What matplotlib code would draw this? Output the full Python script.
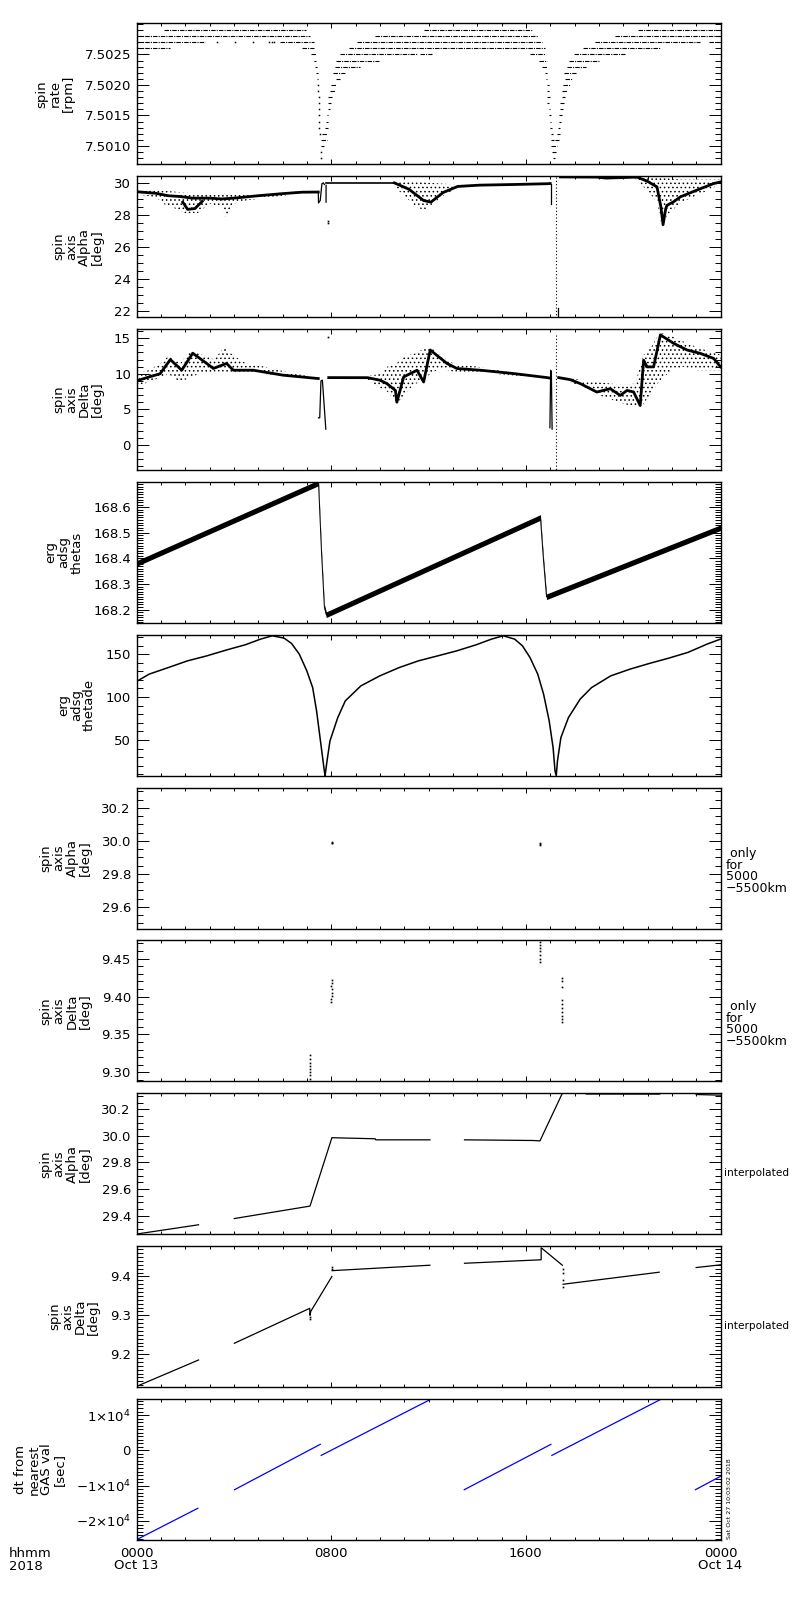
import numpy as np
import matplotlib
matplotlib.use('Agg')
import matplotlib.pyplot as plt
from matplotlib.ticker import FixedLocator, MultipleLocator, FormatStrFormatter

plt.rcParams['font.family'] = ['DejaVu Sans']
plt.rcParams['font.size'] = 9.5
plt.rcParams['mathtext.fontset'] = 'dejavusans'
plt.rcParams['hatch.color'] = 'black'
plt.rcParams['hatch.linewidth'] = 0.6

nan = np.nan

# ── panel 1: spin rate, quantised levels (level, start hour, end hour) ───────
rate_segs = [
    (7.5029, 1.11, 6.98), (7.5029, 11.83, 16.25), (7.5029, 20.63, 24.0),
    (7.5028, 0.0, 7.15), (7.5028, 9.81, 16.52), (7.5028, 19.68, 24.0),
    (7.5027, 0.0, 2.82), (7.5027, 5.9, 7.28), (7.5027, 9.06, 16.66),
    (7.5027, 18.85, 23.17), (7.5027, 23.51, 24.0),
    (7.5027, 3.3, 3.3), (7.5027, 4.05, 4.05), (7.5027, 4.77, 4.77),
    (7.5027, 5.43, 5.43), (7.5027, 5.55, 5.55), (7.5027, 5.67, 5.67),
    (7.5026, 0.0, 1.39), (7.5026, 6.8, 7.31), (7.5026, 8.72, 16.8), (7.5026, 18.35, 21.52),
    (7.5025, 7.18, 7.37), (7.5025, 8.37, 11.52), (7.5025, 11.66, 12.14),
    (7.5025, 16.18, 16.8), (7.5025, 17.96, 20.09),
    (7.5024, 7.28, 7.39), (7.5024, 8.21, 9.95), (7.5024, 16.56, 16.87), (7.5024, 17.76, 19.06),
    (7.5023, 7.35, 7.41), (7.5023, 8.17, 9.17), (7.5023, 16.66, 16.87), (7.5023, 17.69, 18.48),
    (7.5022, 7.39, 7.44), (7.5022, 8.07, 8.58), (7.5022, 16.77, 16.89), (7.5022, 17.55, 18.07),
    (7.5021, 7.41, 7.46), (7.5021, 8.21, 8.37), (7.5021, 16.84, 16.89), (7.5021, 17.62, 17.89),
    (7.5020, 7.44, 7.44), (7.5020, 7.99, 8.21), (7.5020, 16.87, 16.94), (7.5020, 17.51, 17.83),
    (7.5019, 7.46, 7.46), (7.5019, 7.94, 8.14), (7.5019, 16.87, 16.94), (7.5019, 17.48, 17.69),
    (7.5018, 7.48, 7.48), (7.5018, 7.89, 8.03), (7.5018, 16.89, 16.98), (7.5018, 17.48, 17.62),
    (7.5017, 7.48, 7.48), (7.5017, 7.89, 8.0), (7.5017, 16.89, 16.94), (7.5017, 17.41, 17.55),
    (7.5016, 7.50, 7.50), (7.5016, 7.87, 7.96), (7.5016, 16.94, 17.0), (7.5016, 17.39, 17.51),
    (7.5015, 7.51, 7.51), (7.5015, 7.83, 7.89), (7.5015, 16.94, 17.03), (7.5015, 17.35, 17.48),
    (7.5014, 7.52, 7.52), (7.5014, 7.80, 7.89), (7.5014, 16.98, 17.03), (7.5014, 17.35, 17.44),
    (7.5013, 7.52, 7.52), (7.5013, 7.76, 7.85), (7.5013, 17.0, 17.07), (7.5013, 17.31, 17.41),
    (7.5012, 7.55, 7.55), (7.5012, 7.62, 7.83), (7.5012, 17.03, 17.11), (7.5012, 17.28, 17.39),
    (7.5011, 7.58, 7.83), (7.5011, 17.03, 17.14), (7.5011, 17.21, 17.35),
    (7.5010, 7.58, 7.72), (7.5010, 17.05, 17.28),
    (7.5009, 7.58, 7.60), (7.5009, 17.07, 17.25),
    (7.5008, 7.58, 7.58), (7.5008, 17.10, 17.21),
]

# ── panel 2: spin axis alpha ─────────────────────────────────────────────────
alpha_core_t = [0.0, 0.8, 1.3, 1.8, 2.3, 3.0, 3.5, 4.0, 5.0, 6.0, 6.8, 7.47]
alpha_core_v = [29.45, 29.35, 29.2, 29.15, 29.05, 29.05, 29.0, 29.05, 29.2, 29.33, 29.42, 29.43]
alpha_blob_t = [1.9, 2.1, 2.4, 2.7]
alpha_blob_v = [28.8, 28.35, 28.4, 28.85]
alpha_spike_t = [7.47, 7.48, 7.55, 7.62, 7.68, 7.72, nan, 7.79, 7.79]
alpha_spike_v = [29.43, 28.75, 28.9, 29.95, 30.0, 29.9, nan, 29.85, 28.8]
alpha_flat_t = [7.8, 10.6]
alpha_flat_v = [30.0, 30.0]
alpha_core2_t = [10.6, 11.2, 11.8, 12.1, 12.6, 13.2, 14.1, 15.5, 16.9, 17.0]
alpha_core2_v = [30.0, 29.6, 28.9, 28.8, 29.4, 29.78, 29.86, 29.9, 29.95, 29.96]
alpha_spike2_t = [17.03, 17.03, nan, 17.32, 17.32]
alpha_spike2_v = [29.96, 28.7, nan, 22.2, 21.7]
alpha_core3_t = [17.42, 18.9, 19.3, 19.9, 20.57, 21.0, 21.39, 21.55, 21.64, 21.75,
                 21.8, 22.07, 22.35, 23.03, 23.72, 24.0]
alpha_core3_v = [30.37, 30.36, 30.3, 30.33, 30.36, 30.1, 29.75, 28.5, 27.4, 28.4,
                 28.6, 28.82, 29.13, 29.55, 29.96, 30.06]
alpha_dots_t = [7.89, 7.89]
alpha_dots_v = [27.6, 27.5]
alpha_cloudA_t = [0, 0.8, 1.2, 1.6, 2.0, 2.5, 3.0, 3.5, 3.7, 4.0, 4.5, 5.5, 6.5, 7.0]
alpha_cloudA_lo = [29.3, 29.1, 28.6, 28.4, 28.1, 28.1, 28.7, 28.5, 27.8, 28.7, 28.9, 29.1, 29.3, 29.4]
alpha_cloudA_hi = [29.6, 29.55, 29.5, 29.45, 29.4, 29.35, 29.3, 29.3, 29.25, 29.25, 29.3, 29.35, 29.45, 29.45]
alpha_cloudB_t = [10.5, 11.0, 11.5, 11.8, 12.1, 12.6, 13.2, 13.6]
alpha_cloudB_lo = [29.9, 29.2, 28.5, 28.3, 28.6, 29.2, 29.7, 29.8]
alpha_cloudB_hi = [30.05, 30.1, 30.1, 30.05, 30.0, 29.95, 29.9, 29.88]
alpha_cloudC_t = [20.5, 21.0, 21.4, 21.6, 21.8, 22.4, 23.0, 23.7, 24.0]
alpha_cloudC_lo = [30.25, 29.5, 28.8, 27.2, 28.0, 28.8, 29.2, 29.7, 29.9]
alpha_cloudC_hi = [30.4, 30.4, 30.3, 30.3, 30.3, 30.2, 30.2, 30.2, 30.2]

# ── panel 3: spin axis delta ─────────────────────────────────────────────────
delta_coreA_t = [0, 0.56, 0.97, 1.39, 1.86, 2.31, 3.16, 3.7, 3.98, 4.8, 6.03, 7.4, 7.47]
delta_coreA_v = [9.0, 9.6, 10.0, 12.0, 10.5, 12.9, 10.75, 11.45, 10.5, 10.5, 9.8, 9.35, 9.33]
delta_spike_t = [7.48, 7.53, 7.58, 7.64, 7.78]
delta_spike_v = [3.8, 3.8, 9.0, 9.1, 2.2]
delta_coreB_t = [7.9, 9.5, 10.02, 10.29, 10.64, 10.7, 10.98, 11.53, 11.8, 12.07,
                 12.76, 13.17, 14.13, 15.5, 16.87, 16.98]
delta_coreB_v = [9.46, 9.45, 9.08, 8.61, 7.66, 6.0, 9.56, 10.5, 8.84, 13.35,
                 11.45, 10.74, 10.5, 10.03, 9.46, 9.4]
delta_spike2_t = [16.99, 17.02, 17.05, 17.08]
delta_spike2_v = [2.4, 10.5, 10.2, 2.2]
delta_coreC_t = [17.35, 17.83, 18.24, 18.92, 19.47, 19.88, 20.16, 20.43, 20.7, 20.84,
                 20.98, 21.25, 21.53, 22.07, 22.62, 23.17, 23.72, 24.0]
delta_coreC_v = [9.46, 9.17, 8.61, 7.43, 7.9, 6.95, 7.66, 7.43, 5.53, 11.92,
                 10.97, 10.97, 15.47, 14.29, 13.35, 12.87, 12.16, 10.97]
delta_dots_t = [7.89]
delta_dots_v = [15.2]
delta_cloudA_t = [0, 0.5, 1.0, 1.3, 1.8, 2.2, 2.6, 3.2, 3.6, 4.0, 4.5, 5.0, 5.5, 6.5, 7.3]
delta_cloudA_lo = [8.3, 8.8, 9.5, 10.0, 8.8, 9.5, 10.0, 10.3, 10.3, 10.2, 10.3, 10.0, 9.9, 9.6, 9.4]
delta_cloudA_hi = [10.0, 10.5, 11.5, 12.5, 11.5, 13.2, 12.8, 12.0, 13.8, 12.5, 11.5, 11.2, 10.8, 10.0, 9.55]
delta_cloudB_t = [9.4, 10.02, 10.3, 10.7, 11.0, 11.4, 11.8, 12.07, 12.5, 13.0, 14.0, 15.0, 16.0, 16.9]
delta_cloudB_lo = [9.3, 8.0, 7.5, 5.8, 7.0, 8.5, 9.0, 10.0, 10.8, 10.3, 10.2, 9.9, 9.6, 9.35]
delta_cloudB_hi = [9.6, 10.0, 11.0, 11.5, 12.5, 12.8, 13.5, 13.8, 12.5, 11.5, 11.0, 10.4, 9.9, 9.5]
delta_cloudC_t = [17.4, 18.5, 19.0, 19.8, 20.5, 20.8, 21.2, 21.5, 22.0, 22.5, 23.0, 23.5, 24.0]
delta_cloudC_lo = [9.3, 8.0, 7.0, 6.0, 5.3, 5.6, 7.5, 9.0, 10.5, 11.0, 10.5, 10.5, 10.5]
delta_cloudC_hi = [9.6, 9.0, 8.8, 8.5, 8.6, 12.5, 14.0, 15.8, 15.3, 14.5, 13.8, 13.2, 12.7]

# ── panel 4: erg adsg thetas (sawtooth) ──────────────────────────────────────
thetas_t = [0.0, 7.48, 7.6, 7.72, 7.8, 16.6, 16.72, 16.85, 24.0]
thetas_v = [168.38, 168.695, 168.43, 168.21, 168.18, 168.56, 168.40, 168.25, 168.52]

# ── panel 5: erg adsg thetade ────────────────────────────────────────────────
thetade_t = [0, 0.52, 1.31, 2.1, 2.89, 3.68, 4.47, 5.1, 5.58, 6.06, 6.37, 6.69, 7.0,
             7.24, 7.4, 7.56, 7.72, 7.75, 7.83, 7.95, 8.27, 8.58, 9.22, 10.0, 10.8,
             11.59, 12.38, 13.17, 13.96, 14.59, 15.07, 15.54, 15.86, 16.17, 16.49,
             16.73, 16.96, 17.12, 17.2, 17.25, 17.3, 17.44, 17.75, 18.23, 18.7,
             19.49, 20.28, 21.07, 21.87, 22.66, 23.45, 24.0]
thetade_v = [118.1, 126.7, 134.4, 142.2, 148, 154.7, 160.9, 167.5, 171.4, 168.7, 162.5,
             150, 130.5, 111, 83.9, 48.8, 13.8, 8.5, 25.5, 48.8, 76, 95.5, 113, 124.7,
             134.4, 142.2, 148, 153.9, 160.9, 167.5, 171.4, 167.5, 159.7, 146.1, 126.7,
             103.3, 72.2, 41, 13.8, 8.5, 25.5, 52.7, 76, 97.5, 111, 124.7, 132.5,
             139.1, 145.3, 152, 161.7, 167.5]

# ── panels 6/7: values only for 5000-5500 km ─────────────────────────────────
alpha_only_t = [8.02, 8.03, 8.04, 16.59, 16.59, 16.59]
alpha_only_v = [29.995, 29.99, 29.985, 29.99, 29.983, 29.976]
delta_only_t = [7.12, 7.13, 7.13, 7.14, 7.13, 7.14, 7.14, 7.15,
                8.03, 8.02, 8.01, 8.02, 8.03, 8.02, 8.01, 8.01,
                16.59, 16.59, 16.59, 16.59, 16.59, 16.59, 16.59,
                17.47, 17.47, 17.48, 17.49, 17.49, 17.49, 17.5, 17.5, 17.5, 17.5]
delta_only_v = [9.323, 9.318, 9.313, 9.309, 9.305, 9.300, 9.296, 9.291,
                9.422, 9.418, 9.414, 9.410, 9.405, 9.401, 9.397, 9.393,
                9.472, 9.468, 9.464, 9.460, 9.455, 9.450, 9.445,
                9.424, 9.420, 9.412, 9.396, 9.390, 9.385, 9.380, 9.375, 9.370, 9.366]

# ── panels 8/9: interpolated ─────────────────────────────────────────────────
alpha_int_t = [0.0, 2.55, nan, 4.02, 7.13, 8.03, 9.81, 9.83, 12.06, nan, 13.48, 16.31,
               16.58, 17.5, 17.6, 18.4, 18.47, 21.5, nan, 23.0, 24.0]
alpha_int_v = [29.26, 29.33, nan, 29.377, 29.471, 29.987, 29.979, 29.971, 29.971, nan,
               29.971, 29.966, 29.963, 30.322, 30.335, 30.33, 30.317, 30.316, nan,
               30.313, 30.308]
delta_int_t = [0.0, 2.55, nan, 4.02, 7.12, 7.13, 7.16, 8.03, nan, 8.04, 12.06, nan,
               13.48, 16.63, 16.63, 17.5, nan, 17.53, 21.48, nan, 23.0, 24.0]
delta_int_v = [9.117, 9.185, nan, 9.228, 9.318, 9.30, 9.31, 9.40, nan, 9.415, 9.429, nan,
               9.434, 9.443, 9.474, 9.429, nan, 9.38, 9.411, nan, 9.423, 9.430]
delta_int_dot_t = [7.13, 7.13, 8.03, 8.03, 17.51, 17.52, 17.52, 17.52]
delta_int_dot_v = [9.29, 9.296, 9.42, 9.424, 9.42, 9.41, 9.39, 9.372]

# ── panel 10: dt from nearest GAS value (segments) ───────────────────────────
dt_t0 = [0.0, 4.03, 7.59, 13.47, 17.07, 22.97]
dt_t1 = [2.52, 7.55, 12.04, 17.03, 21.5, 24.0]
dt_v0 = [-25300, -11135, -1419, -11135, -1419, -11135]
dt_v1 = [-16405, 1703, 14290, 1703, 14290, -7350]

# ── axis set-up per panel ────────────────────────────────────────────────────
ylabels = ['spin\nrate\n[rpm]', 'spin\naxis\nAlpha\n[deg]', 'spin\naxis\nDelta\n[deg]',
           'erg\nadsg\nthetas', 'erg\nadsg\nthetade', 'spin\naxis\nAlpha\n[deg]',
           'spin\naxis\nDelta\n[deg]', 'spin\naxis\nAlpha\n[deg]', 'spin\naxis\nDelta\n[deg]',
           'dt from\nnearest\nGAS val\n[sec]']
ylims = [(7.5007, 7.50301), (21.63, 30.42), (-3.55, 16.3), (168.148, 168.699),
         (8.3, 172.6), (29.468, 30.323), (9.288, 9.474), (29.258, 30.322),
         (9.115, 9.478), (-25400, 14540)]
yticks = [[7.5010, 7.5015, 7.5020, 7.5025], [22, 24, 26, 28, 30], [0, 5, 10, 15],
          [168.2, 168.3, 168.4, 168.5, 168.6], [50, 100, 150], [29.6, 29.8, 30.0, 30.2],
          [9.30, 9.35, 9.40, 9.45], [29.4, 29.6, 29.8, 30.0, 30.2], [9.2, 9.3, 9.4],
          [-20000, -10000, 0, 10000]]
yminor = [0.0001, 0.5, 1, 0.01, 10, 0.05, 0.01, 0.05, 0.01, 1000]
yfmt = ['%.4f', '%d', '%d', '%.1f', '%d', '%.1f', '%.2f', '%.1f', '%.1f', None]
dt_ticklabels = [r'$-2{\times}10^{4}$', r'$-1{\times}10^{4}$', '0', r'$1{\times}10^{4}$']
xtick_hours = [0, 8, 16, 24]
xtick_labels = ['0000\nOct 13', '0800', '1600', '0000\nOct 14']

fig = plt.figure(figsize=(8, 16), dpi=100)
L, R = 136.5, 720.5
TOP0, H, STEP = 23.3, 141.0, 152.86

axes = []
for k in range(10):
    top = TOP0 + STEP * k
    ax = fig.add_axes([L / 800, 1 - (top + H) / 1600, (R - L) / 800, H / 1600])
    ax.set_xlim(0, 24)
    ax.set_ylim(*ylims[k])
    ax.xaxis.set_major_locator(FixedLocator(xtick_hours))
    ax.xaxis.set_minor_locator(MultipleLocator(1))
    ax.yaxis.set_major_locator(FixedLocator(yticks[k]))
    ax.yaxis.set_minor_locator(MultipleLocator(yminor[k]))
    if yfmt[k]:
        ax.yaxis.set_major_formatter(FormatStrFormatter(yfmt[k]))
    else:
        ax.set_yticklabels(dt_ticklabels)
    ax.tick_params(axis='y', which='major', direction='in', length=8.6, width=0.7,
                   left=True, right=True, pad=4)
    ax.tick_params(axis='y', which='minor', direction='in', length=4.3, width=0.7,
                   left=True, right=True)
    ax.tick_params(axis='x', which='major', direction='in', length=3.5, width=0.7,
                   top=True, bottom=True, pad=5)
    ax.tick_params(axis='x', which='minor', direction='in', length=2.0, width=0.7,
                   top=True, bottom=True)
    for sp in ax.spines.values():
        sp.set_linewidth(1.0)
    ax.set_ylabel(ylabels[k], linespacing=1.0, multialignment='center', labelpad=7)
    if k < 9:
        ax.set_xticklabels([])
    else:
        ax.set_xticklabels(xtick_labels)
        for lab in ax.get_xticklabels():
            lab.set_linespacing(0.95)
    axes.append(ax)

# panel 1
ax = axes[0]
for lv, t0, t1 in rate_segs:
    if t1 - t0 < 0.02:
        ax.plot([t0], [lv], 's', ms=1.1, mew=0, color='k')
    else:
        ax.plot([t0, t1], [lv, lv], color='k', lw=0.8, ls=(0, (4, 1, 1, 1)))

# panel 2
ax = axes[1]
for ct, lo, hi in [(alpha_cloudA_t, alpha_cloudA_lo, alpha_cloudA_hi),
                   (alpha_cloudB_t, alpha_cloudB_lo, alpha_cloudB_hi),
                   (alpha_cloudC_t, alpha_cloudC_lo, alpha_cloudC_hi)]:
    ax.fill_between(ct, lo, hi, facecolor='none', edgecolor='k', hatch='....', lw=0)
ax.plot(alpha_core_t, alpha_core_v, color='k', lw=2.0)
ax.plot(alpha_blob_t, alpha_blob_v, color='k', lw=2.0)
ax.plot(alpha_spike_t, alpha_spike_v, color='k', lw=0.9)
ax.plot(alpha_flat_t, alpha_flat_v, color='k', lw=1.2)
ax.plot(alpha_core2_t, alpha_core2_v, color='k', lw=2.0)
ax.plot(alpha_spike2_t, alpha_spike2_v, color='k', lw=0.9)
ax.plot([17.25, 17.25], [30.38, 21.6], color='k', lw=0.8, ls=(0, (1, 2)))
ax.plot(alpha_core3_t, alpha_core3_v, color='k', lw=2.0)
ax.plot(alpha_dots_t, alpha_dots_v, 's', ms=1.2, mew=0, color='k')

# panel 3
ax = axes[2]
for ct, lo, hi in [(delta_cloudA_t, delta_cloudA_lo, delta_cloudA_hi),
                   (delta_cloudB_t, delta_cloudB_lo, delta_cloudB_hi),
                   (delta_cloudC_t, delta_cloudC_lo, delta_cloudC_hi)]:
    ax.fill_between(ct, lo, hi, facecolor='none', edgecolor='k', hatch='....', lw=0)
ax.plot(delta_coreA_t, delta_coreA_v, color='k', lw=2.0)
ax.plot(delta_spike_t, delta_spike_v, color='k', lw=0.9)
ax.plot(delta_coreB_t, delta_coreB_v, color='k', lw=2.0)
ax.plot(delta_spike2_t, delta_spike2_v, color='k', lw=0.9)
ax.plot([17.25, 17.25], [15.5, -3.6], color='k', lw=0.8, ls=(0, (1, 2)))
ax.plot(delta_coreC_t, delta_coreC_v, color='k', lw=2.0)
ax.plot(delta_dots_t, delta_dots_v, 's', ms=1.2, mew=0, color='k')

# panel 4
ax = axes[3]
tv = np.array(thetas_v)
ax.fill_between(thetas_t, tv - 0.011, tv + 0.011, color='k', lw=0)
ax.plot(thetas_t, thetas_v, color='k', lw=0.7)

# panel 5
axes[4].plot(thetade_t, thetade_v, color='k', lw=1.1)

# panels 6, 7
axes[5].plot(alpha_only_t, alpha_only_v, 's', ms=1.2, mew=0, color='k')
axes[6].plot(delta_only_t, delta_only_v, 's', ms=1.2, mew=0, color='k')

# panels 8, 9
axes[7].plot(alpha_int_t, alpha_int_v, color='k', lw=0.9)
axes[8].plot(delta_int_t, delta_int_v, color='k', lw=0.9)
axes[8].plot(delta_int_dot_t, delta_int_dot_v, 's', ms=1.2, mew=0, color='k')

# panel 10
for t0, t1, v0, v1 in zip(dt_t0, dt_t1, dt_v0, dt_v1):
    axes[9].plot([t0, t1], [v0, v1], color='#0000ff', lw=0.9)

# right-hand notes
def panel_mid(k):
    return TOP0 + STEP * k + H / 2

only_txt = ' only\nfor\n5000\n\u22125500km'
for k in (5, 6):
    fig.text(726 / 800, 1 - (panel_mid(k) + 13) / 1600, only_txt, ha='left', va='center',
             fontsize=9, linespacing=0.88, multialignment='left')
for k in (7, 8):
    fig.text(724 / 800, 1 - (panel_mid(k) + 9) / 1600, 'interpolated', ha='left',
             va='center', fontsize=7.6)

fig.text(9 / 800, 1 - 1547 / 1600, 'hhmm\n2018', ha='left', va='top', linespacing=0.95)
fig.text(729.5 / 800, 1 - 1539 / 1600, 'Sat Oct 27 10:03:02 2018', rotation=90,
         fontsize=4.5, ha='center', va='bottom')

fig.savefig('out.png', dpi=100)
plt.close(fig)
